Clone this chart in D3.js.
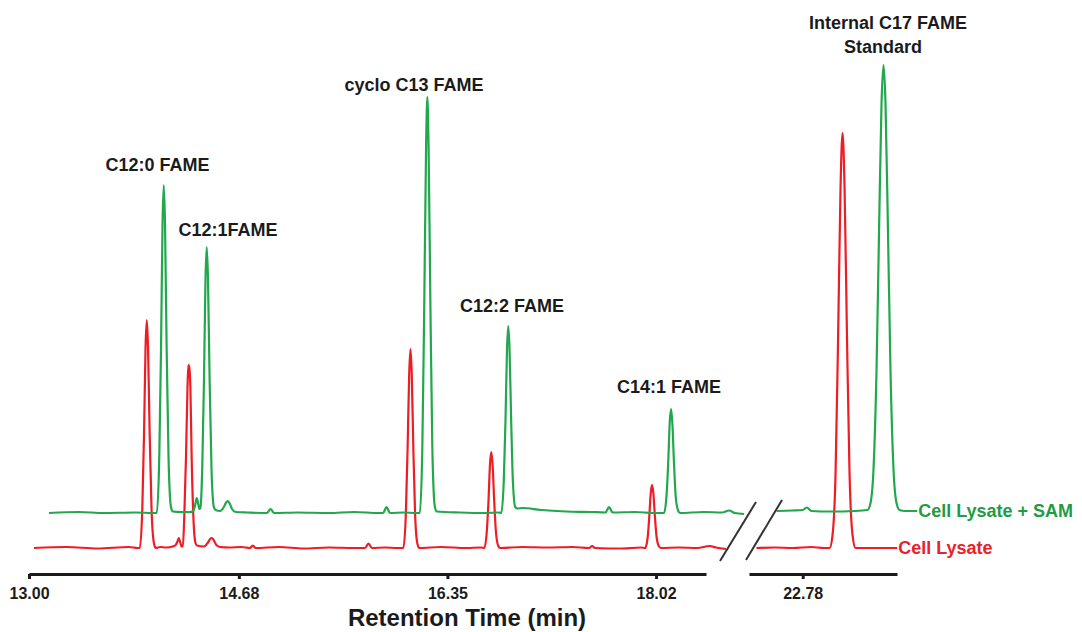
<!DOCTYPE html>
<html>
<head>
<meta charset="utf-8">
<script src="https://cdn.jsdelivr.net/npm/d3@7"></script>
<style>
  html, body { margin: 0; padding: 0; background: #fff; }
  svg { display: block; }
  text { font-family: "Liberation Sans", Arial, sans-serif; font-weight: bold; }
</style>
</head>
<body>
<svg id="chart" width="1082" height="632"></svg>
<script>
// ---------------- DATA ----------------
// Retention time (min), detector signal (a.u., relative to each trace's own baseline)
const seriesNames = ["Cell Lysate + SAM", "Cell Lysate"];
const seriesOffsets = [7, 0];   // vertical offset of each chromatogram (a.u.)

// Cell Lysate + SAM (green) — left section 13.0–18.7 min
const samLeft = [
  [13.160,0],[13.40,0.2],[13.60,0],[13.85,0.1],[14.00,0],
  [14.023,0],[14.043,11.2],[14.057,32.8],[14.069,57.7],[14.079,65.6],[14.089,57.7],[14.102,32.8],[14.117,11.2],[14.136,1.3],[14.150,0.3],
  [14.22,0.2],[14.29,0.2],
  [14.315,0.4],[14.330,1.6],[14.343,3.0],[14.355,1.8],[14.364,0.8],
  [14.372,1.0],[14.387,9.0],[14.401,26.6],[14.413,46.8],[14.423,53.2],[14.433,46.8],[14.446,26.6],[14.461,9.0],[14.480,1.2],[14.494,0.6],
  [14.530,0.4],[14.560,1.2],[14.578,2.1],[14.591,2.4],[14.605,2.0],[14.625,0.8],[14.655,0.2],
  [14.75,0.1],[14.905,0],[14.934,0.8],[14.962,0],[15.15,0.1],[15.40,0],[15.60,0.2],[15.80,0],
  [15.835,0],[15.862,1.2],[15.890,0],[16.00,0.1],[16.10,0],
  [16.129,0],[16.149,13.1],[16.164,40.8],[16.179,73.2],[16.189,83.2],[16.199,73.2],[16.214,40.8],[16.229,13.1],[16.249,1.3],[16.265,0.3],
  [16.45,0.1],[16.65,0],[16.76,0.1],
  [16.781,0],[16.801,6.4],[16.815,18.7],[16.827,32.9],[16.837,37.4],[16.847,32.9],[16.860,18.7],[16.874,6.4],[16.893,1.2],[16.910,0.9],
  [16.95,1.0],[17.10,0.6],[17.30,0.3],[17.50,0.2],
  [17.615,0.1],[17.644,1.2],[17.672,0.1],[17.85,0.2],[18.00,0],
  [18.084,0],[18.104,3.5],[18.118,10.4],[18.130,18.3],[18.140,20.8],[18.150,18.3],[18.163,10.4],[18.177,3.5],[18.196,0.5],[18.212,0],
  [18.40,0.2],[18.55,0.1],[18.604,0.5],[18.65,0],[18.725,-0.2]
];
// Cell Lysate + SAM (green) — right section after the axis break
const samRight = [
  [22.572,0.4],[22.70,0.5],[22.78,0.6],[22.812,1.1],[22.85,0.4],[23.00,0.3],[23.20,0.4],
  [23.299,0.6],[23.323,2.0],[23.347,8.8],[23.371,28.5],[23.391,56.0],[23.411,81.9],[23.427,89.6],
  [23.443,81.9],[23.463,56.0],[23.483,28.5],[23.507,8.8],[23.531,2.0],[23.555,0.6],[23.60,0.4],[23.697,0.4]
];

// Cell Lysate (red) — left section
const lysLeft = [
  [13.040,0],[13.30,0.2],[13.55,-0.1],[13.80,0.2],[13.870,0],
  [13.887,0],[13.907,7.8],[13.921,22.8],[13.933,40.1],[13.943,45.6],[13.953,40.1],[13.966,22.8],[13.981,7.8],[14.000,1.0],[14.015,0],
  [14.05,0.2],[14.10,0.1],[14.150,0.3],
  [14.170,0.5],[14.187,1.2],[14.199,2.0],[14.211,1.1],[14.222,0.3],
  [14.232,0.3],[14.243,6.2],[14.257,18.3],[14.269,32.2],[14.276,36.6],[14.282,36.3],[14.292,32.2],[14.302,18.3],[14.316,6.2],[14.333,1.0],[14.345,0.5],
  [14.400,0.3],[14.430,1.0],[14.450,1.8],[14.463,2.0],[14.478,1.6],[14.500,0.6],[14.530,0.2],
  [14.60,0.1],[14.70,0.2],[14.770,0],[14.791,0.5],[14.815,0],[15.00,0.2],[15.20,-0.1],[15.40,0.1],[15.60,0],
  [15.690,0],[15.718,0.9],[15.745,0],[15.85,0.1],[15.95,0],
  [15.997,0],[16.017,6.8],[16.031,19.9],[16.044,35.0],[16.054,39.8],[16.064,35.0],[16.077,19.9],[16.091,6.8],[16.110,0.8],[16.125,0],
  [16.30,0.2],[16.50,0],[16.62,0.1],
  [16.645,0],[16.665,3.3],[16.679,9.6],[16.691,16.9],[16.701,19.2],[16.711,16.9],[16.724,9.6],[16.738,3.3],[16.757,0.4],[16.772,0],
  [16.95,0.2],[17.15,0.1],[17.35,0.2],[17.485,0],[17.508,0.4],[17.530,0],[17.75,-0.1],[17.90,0.1],
  [17.933,0],[17.953,2.1],[17.966,6.3],[17.978,11.1],[17.988,12.6],[17.998,11.1],[18.011,6.3],[18.025,2.1],[18.044,0.3],[18.060,0],
  [18.20,0.1],[18.35,0],[18.45,0.4],[18.50,0.1],[18.58,-0.2]
];
// Cell Lysate (red) — right section
const lysRight = [
  [22.41,0],[22.55,0.1],[22.70,0],[22.85,0.2],[22.95,0],
  [22.995,0],[23.019,2.6],[23.043,14.9],[23.063,41.5],[23.083,72.2],[23.099,83.0],
  [23.115,72.2],[23.135,41.5],[23.155,14.9],[23.179,2.6],[23.203,0],[23.35,0],[23.537,0]
];

const tickLeft = [13.00, 14.68, 16.35, 18.02];
const tickRight = [22.78];

// Peak annotations: label lines, anchor time (min), signal position (a.u.), section
const peakLabels = [
  { lines: ["C12:0 FAME"], t: 14.029, v: 75.4, sec: "L" },
  { lines: ["C12:1FAME"], t: 14.593, v: 62.4, sec: "L" },
  { lines: ["cyclo C13 FAME"], t: 16.082, v: 91.4, sec: "L" },
  { lines: ["C12:2 FAME"], t: 16.867, v: 47.2, sec: "L" },
  { lines: ["C14:1 FAME"], t: 18.124, v: 31.0, sec: "L" },
  { lines: ["Internal C17 FAME", "Standard"], t: 23.463, v: 103.8, sec: "R" }
];

const colors = { sam: "#21a74c", lys: "#ee1c25", samText: "#1f9c43", lysText: "#e8212a", ink: "#1b1b1b" };

// ---------------- SCALES ----------------
const svg = d3.select("#chart");
const xL = d3.scaleLinear().domain([13.00, 18.42]).range([29, 706]);
const xR = d3.scaleLinear().domain([22.35, 23.535]).range([749, 897]);
const y = d3.scaleLinear().domain([0, 100]).range([548, 48]);
const axisY = 574;

function lineFor(xs, off) {
  return d3.line()
    .x(d => xs(d[0]))
    .y(d => y(d[1] + off))
    .curve(d3.curveMonotoneX);
}

// ---------------- TRACES ----------------
const traces = [
  { data: lysLeft, xs: xL, off: seriesOffsets[1], color: colors.lys },
  { data: lysRight, xs: xR, off: seriesOffsets[1], color: colors.lys },
  { data: samLeft, xs: xL, off: seriesOffsets[0], color: colors.sam },
  { data: samRight, xs: xR, off: seriesOffsets[0], color: colors.sam }
];
svg.append("g").selectAll("path").data(traces).join("path")
  .attr("d", d => lineFor(d.xs, d.off)(d.data))
  .attr("fill", "none")
  .attr("stroke", d => d.color)
  .attr("stroke-width", 2.2)
  .attr("stroke-linejoin", "round");

// ---------------- AXES ----------------
function drawAxis(scale, ticks) {
  const g = svg.append("g").attr("transform", `translate(0,${axisY})`)
    .call(d3.axisBottom(scale).tickValues(ticks).tickFormat(d3.format(".2f"))
      .tickSize(5).tickSizeOuter(0).tickPadding(9));
  g.select(".domain").attr("stroke", colors.ink).attr("stroke-width", 3.2);
  g.selectAll(".tick line").attr("stroke", colors.ink).attr("stroke-width", 3);
  g.selectAll(".tick text").attr("fill", colors.ink)
    .style("font-size", "16px").style("font-family", "'Liberation Sans', Arial, sans-serif")
    .style("font-weight", "bold");
  return g;
}
drawAxis(xL, tickLeft);
drawAxis(xR, tickRight);

// axis break slashes (placed in the gap between the two axis sections)
const gapA = xL.range()[1];
const slashes = [
  { x1: gapA + 14, y1: y(-2.6), x2: gapA + 50, y2: y(9.2) },
  { x1: gapA + 40, y1: y(-2.4), x2: gapA + 76, y2: y(9.6) }
];
svg.append("g").selectAll("line").data(slashes).join("line")
  .attr("x1", d => d.x1).attr("y1", d => d.y1)
  .attr("x2", d => d.x2).attr("y2", d => d.y2)
  .attr("stroke", "#333").attr("stroke-width", 2);

// axis title
svg.append("text")
  .attr("x", (xL.range()[0] + xR.range()[1]) / 2 + 4)
  .attr("y", 626)
  .attr("text-anchor", "middle")
  .attr("fill", colors.ink)
  .style("font-size", "24px")
  .text("Retention Time (min)");

// ---------------- PEAK LABELS ----------------
const lab = svg.append("g");
peakLabels.forEach(p => {
  const xs = p.sec === "L" ? xL : xR;
  const t = lab.append("text")
    .attr("x", xs(p.t))
    .attr("y", y(p.v))
    .attr("text-anchor", "middle")
    .attr("fill", colors.ink)
    .style("font-size", "18px");
  p.lines.forEach((ln, i) => {
    t.append("tspan").attr("x", xs(p.t)).attr("dy", i === 0 ? 0 : 24)
      .attr("dx", i === 0 ? 0 : -5).text(ln);
  });
});

// ---------------- SERIES LABELS (at end of each trace) ----------------
const ends = [
  { name: seriesNames[0], pt: samRight[samRight.length - 1], off: seriesOffsets[0], color: colors.samText },
  { name: seriesNames[1], pt: lysRight[lysRight.length - 1], off: seriesOffsets[1], color: colors.lysText }
];
svg.append("g").selectAll("text").data(ends).join("text")
  .attr("x", d => xR(d.pt[0]) + 1)
  .attr("y", d => y(d.pt[1] + d.off) + 6)
  .attr("fill", d => d.color)
  .style("font-size", "18px")
  .text(d => d.name);
</script>
</body>
</html>
